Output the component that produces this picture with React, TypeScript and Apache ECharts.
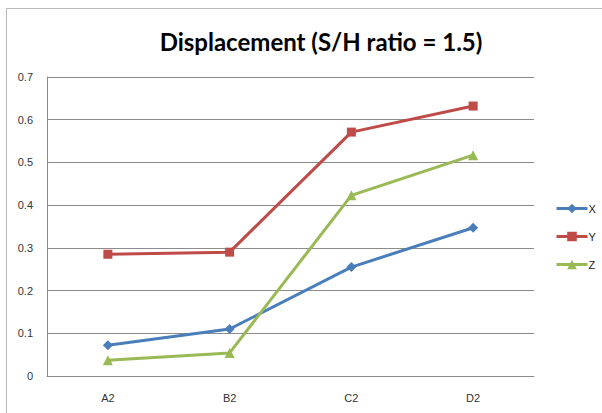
import React, { useEffect, useRef } from "react";
import * as echarts from "echarts";

const categories = ["A2", "B2", "C2", "D2"];
const seriesX = [0.072, 0.11, 0.255, 0.347];
const seriesY = [0.285, 0.29, 0.571, 0.632];
const seriesZ = [0.037, 0.054, 0.423, 0.517];
const titleText = "Displacement (S/H ratio = 1.5)";

export default function App() {
  const ref = useRef<HTMLDivElement>(null);
  useEffect(() => {
    if (!ref.current) return;
    const chart = echarts.init(ref.current, null, { renderer: "svg" });
    const font = "'Liberation Sans', Arial, sans-serif";
    const mk = (name: string, data: number[], color: string, symbol: string, size: number) => ({
      name,
      type: "line",
      data,
      symbol,
      symbolSize: size,
      lineStyle: { color, width: 3 },
      itemStyle: { color },
      z: 3,
    });
    chart.setOption({
      animation: false,
      backgroundColor: "#ffffff",
      textStyle: { fontFamily: font },
      title: {
        text: titleText,
        left: 316,
        textAlign: "center",
        top: 24,
        textStyle: { fontSize: 24, fontWeight: "bold", color: "#000", fontFamily: "Lato, 'Open Sans', sans-serif" },
      },
      graphic: [
        {
          type: "rect",
          shape: { x: 6.5, y: 8.5, width: 620, height: 420 },
          style: { fill: "none", stroke: "#b8b8b8", lineWidth: 1 },
          silent: true,
        },
      ],
      legend: {
        orient: "vertical",
        left: 550,
        top: 198,
        itemGap: 17,
        itemWidth: 31,
        itemHeight: 12,
        lineStyle: { width: 3 },
        textStyle: { fontSize: 11, color: "#222", padding: [0, 0, 0, -4] },
        data: ["X", "Y", "Z"],
      },
      grid: { left: 47, right: 68, top: 77, bottom: 37 },
      xAxis: {
        type: "category",
        data: categories,
        boundaryGap: true,
        axisLine: { show: true, lineStyle: { color: "#8c8c8c", width: 1 } },
        axisTick: { show: false },
        axisLabel: { color: "#333", fontSize: 11, margin: 16 },
      },
      yAxis: {
        type: "value",
        min: 0,
        max: 0.7,
        interval: 0.1,
        axisLine: { show: true, lineStyle: { color: "#8c8c8c", width: 1 } },
        axisTick: { show: false },
        axisLabel: { color: "#333", fontSize: 11, margin: 14 },
        splitLine: { show: true, lineStyle: { color: "#8c8c8c", width: 1 } },
      },
      series: [
        mk("X", seriesX, "#4A7EBB", "diamond", 10),
        mk("Y", seriesY, "#BE4B48", "rect", 9),
        mk("Z", seriesZ, "#98B954", "triangle", 10),
      ],
    });
    return () => chart.dispose();
  }, []);
  return <div ref={ref} style={{ width: 602, height: 413, position: "absolute", left: 0, top: 0 }} />;
}
